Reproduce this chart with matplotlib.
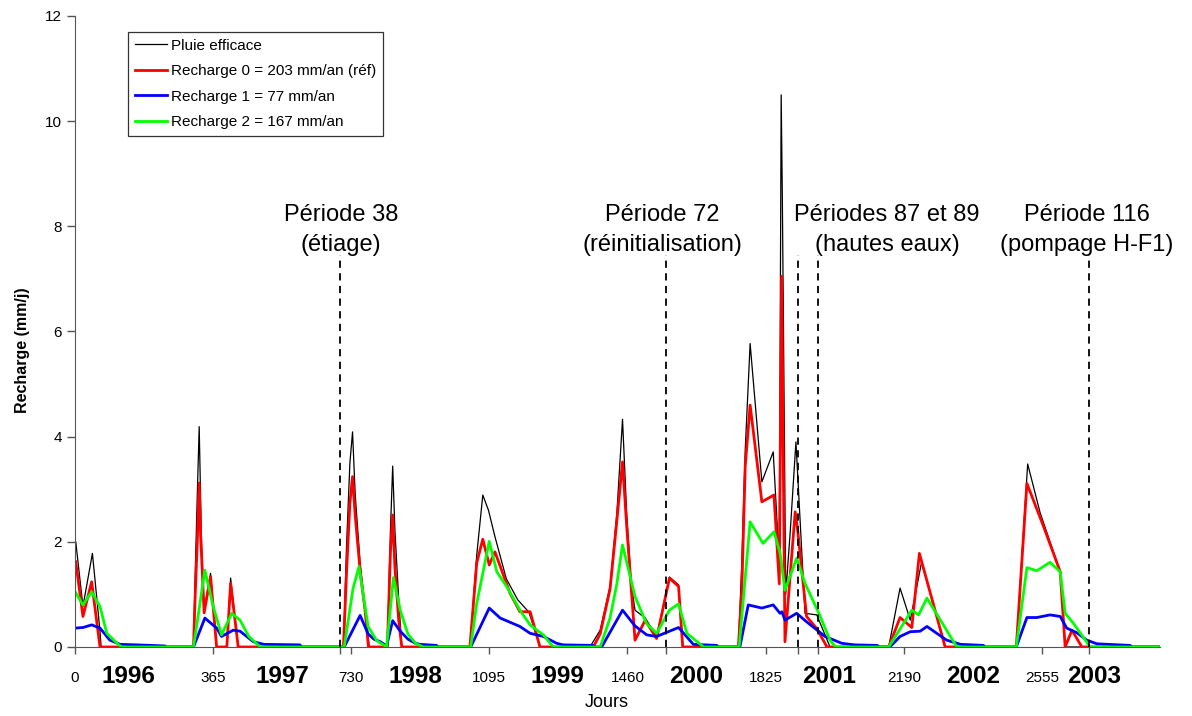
import numpy as np
import matplotlib
matplotlib.use('Agg')
import matplotlib.pyplot as plt
import matplotlib.transforms as mtrans

plt.rcParams['font.family'] = ['Liberation Sans', 'DejaVu Sans']

# Pluie efficace (black)
pluie_j = [3, 22, 47, 67, 70, 314, 318, 324, 329, 335, 342, 359, 375, 402, 412, 432,
           710, 718, 727, 734, 741, 754, 767, 778, 826, 834, 840, 846, 856, 864,
           1044, 1062, 1078, 1093, 1110, 1140, 1170, 1200, 1229,
           1361, 1388, 1414, 1432, 1447, 1458, 1470, 1480, 1507, 1537, 1571, 1595, 1606,
           1753, 1762, 1771, 1784, 1815, 1845, 1861, 1866, 1869, 1873, 1878, 1890, 1905,
           1929, 1960, 1995,
           2150, 2180, 2207, 2237, 2299, 2487, 2517, 2550, 2603, 2616, 2866]
pluie = [2.0, 0.77, 1.78, 0.3, 0, 0, 1.27, 2.9, 4.19, 2.0, 0.7, 1.4, 0, 0, 1.31, 0,
         0, 1.9, 3.5, 4.09, 2.9, 1.6, 0.75, 0, 0, 2.2, 3.44, 2.2, 0.9, 0,
         0, 1.75, 2.89, 2.6, 2.1, 1.3, 0.9, 0.66, 0,
         0, 0.32, 1.15, 2.54, 4.33, 2.54, 1.2, 0.7, 0.55, 0.2, 1.33, 1.18, 0,
         0, 1.6, 3.74, 5.77, 3.14, 3.71, 1.6, 10.5, 8.6, 5.3, 1.0, 2.2, 3.9,
         0.64, 0.61, 0,
         0, 1.12, 0.51, 1.62, 0, 0, 3.48, 2.55, 1.43, 0, 0]

# Recharge 0 (red)
r0_j = [3, 22, 45, 67, 314, 318, 324, 329, 333, 338, 342, 359, 375, 402, 412, 432,
        710, 718, 727, 734, 741, 754, 767, 776, 826, 834, 840, 846, 856, 864,
        1044, 1062, 1078, 1095, 1110, 1150, 1176, 1203, 1229,
        1370, 1388, 1414, 1432, 1447, 1458, 1480, 1507, 1537, 1571, 1595, 1606,
        1753, 1762, 1771, 1784, 1815, 1847, 1861, 1867, 1876, 1903, 1910, 1933, 1960, 1987,
        2150, 2180, 2211, 2231, 2299, 2487, 2515, 2559, 2603, 2616, 2634, 2660, 2866]
r0 = [1.62, 0.58, 1.24, 0, 0, 0.9, 2.0, 3.12, 2.1, 1.3, 0.65, 1.34, 0, 0, 1.21, 0,
      0, 1.4, 2.74, 3.24, 2.5, 1.45, 0.7, 0, 0, 1.8, 2.51, 1.5, 0.5, 0,
      0, 1.6, 2.05, 1.56, 1.81, 1.02, 0.67, 0.67, 0,
      0, 0.25, 1.1, 2.4, 3.52, 2.3, 0.13, 0.51, 0.16, 1.31, 1.15, 0,
      0, 1.08, 3.43, 4.6, 2.76, 2.89, 1.2, 7.05, 0.1, 2.57, 2.2, 0.58, 0.35, 0,
      0, 0.56, 0.37, 1.78, 0, 0, 3.11, 2.29, 1.43, 0, 0.32, 0, 0]

# Recharge 1 (blue)
r1_j = [3, 22, 45, 67, 93, 120, 164, 239, 242, 314, 344, 375, 388, 419, 437, 472, 500, 595, 600,
        712, 754, 775, 790, 807, 824, 840, 860, 880, 900, 912, 956, 960,
        1046, 1095, 1124, 1176, 1203, 1238, 1273, 1290, 1370, 1375,
        1392, 1447, 1480, 1511, 1537, 1595, 1634, 1696, 1700,
        1757, 1779, 1815, 1845, 1863, 1868, 1876, 1907, 1933, 1982, 2026, 2060, 2120, 2125,
        2153, 2180, 2207, 2233, 2251, 2303, 2340, 2400, 2405,
        2487, 2515, 2541, 2576, 2603, 2620, 2647, 2673, 2700, 2788, 2792, 2866]
r1 = [0.36, 0.37, 0.42, 0.36, 0.13, 0.05, 0.04, 0.02, 0, 0, 0.55, 0.36, 0.2, 0.32, 0.3, 0.1, 0.05, 0.04, 0,
      0, 0.6, 0.25, 0.15, 0.1, 0.02, 0.5, 0.3, 0.15, 0.07, 0.05, 0.03, 0,
      0, 0.74, 0.55, 0.39, 0.26, 0.2, 0.07, 0.04, 0.03, 0,
      0, 0.70, 0.4, 0.23, 0.2, 0.37, 0.05, 0.03, 0,
      0, 0.8, 0.74, 0.8, 0.64, 0.67, 0.51, 0.64, 0.48, 0.2, 0.07, 0.04, 0.03, 0,
      0, 0.2, 0.29, 0.3, 0.39, 0.13, 0.05, 0.03, 0,
      0, 0.56, 0.56, 0.61, 0.58, 0.36, 0.27, 0.13, 0.06, 0.03, 0, 0]

# Recharge 2 (green)
r2_j = [3, 22, 45, 67, 85, 115, 125, 314, 344, 366, 388, 415, 437, 460, 490,
        712, 735, 751, 775, 798, 824, 842, 860, 880, 900, 921,
        1046, 1062, 1095, 1115, 1141, 1176, 1203, 1238, 1264,
        1388, 1414, 1432, 1447, 1480, 1510, 1537, 1571, 1595, 1617, 1661,
        1755, 1784, 1818, 1847, 1863, 1876, 1907, 1929, 1965, 1995, 2010,
        2150, 2211, 2229, 2251, 2273, 2330,
        2487, 2515, 2541, 2576, 2603, 2616, 2638, 2682, 2866]
r2 = [1.03, 0.80, 1.05, 0.77, 0.26, 0.05, 0, 0, 1.46, 0.77, 0.23, 0.64, 0.51, 0.2, 0,
      0, 1.1, 1.53, 0.39, 0.12, 0, 1.32, 0.7, 0.25, 0.07, 0,
      0, 0.83, 2.01, 1.43, 1.15, 0.7, 0.42, 0.23, 0,
      0, 0.55, 1.2, 1.94, 0.96, 0.45, 0.26, 0.7, 0.82, 0.26, 0,
      0, 2.38, 1.97, 2.19, 1.79, 1.08, 1.69, 1.21, 0.65, 0.13, 0,
      0, 0.7, 0.61, 0.93, 0.67, 0,
      0, 1.51, 1.45, 1.61, 1.43, 0.64, 0.45, 0, 0]

labels = ['Pluie efficace', 'Recharge 0 = 203 mm/an (réf)',
          'Recharge 1 = 77 mm/an', 'Recharge 2 = 167 mm/an']

day_ticks = [0, 365, 730, 1095, 1460, 1825, 2190, 2555]
years = ['1996', '1997', '1998', '1999', '2000', '2001', '2002', '2003']
year_pos = [141, 548, 900, 1276, 1641, 1992, 2373, 2693]

periodes = [701, 1562, 1911, 1964, 2679]
annot = [('Période 38', '(étiage)', 704),
         ('Période 72', '(réinitialisation)', 1552),
         ('Périodes 87 et 89', '(hautes eaux)', 2146),
         ('Période 116', '(pompage H-F1)', 2674)]

fig = plt.figure(figsize=(11.92, 7.16), dpi=100)
ax = fig.add_axes([0.0626, 0.0964, 0.9104, 0.8813])

ax.plot(pluie_j, pluie, color='black', lw=0.9, label=labels[0])
ax.plot(r0_j, r0, color='#ff0000', lw=2.0, label=labels[1])
ax.plot(r1_j, r1, color='#0000ff', lw=2.0, label=labels[2])
ax.plot(r2_j, r2, color='#00ff00', lw=2.0, label=labels[3])

ax.vlines(periodes, 0, 7.45, colors='black', linestyles=(0, (4, 3)), lw=1.3)

for t1, t2, x in annot:
    ax.text(x, 8.21, t1, ha='center', va='center', fontsize=17)
    ax.text(x, 7.64, t2, ha='center', va='center', fontsize=17)

ax.set_xlim(0, 2866)
ax.set_ylim(0, 12)
ax.set_yticks(np.arange(0, 13, 2))
ax.set_xticks(day_ticks)
ax.set_xticks(periodes, minor=True)
ax.tick_params(axis='y', length=6, width=1, color='#555555', labelsize=11, pad=3)
ax.tick_params(axis='x', which='major', length=5, width=1, color='#555555', labelsize=11, pad=12)
ax.tick_params(axis='x', which='minor', length=5, width=1, color='#555555')

trans = mtrans.blended_transform_factory(ax.transData, ax.transAxes)
for y, x in zip(years, year_pos):
    ax.text(x, -0.046, y, transform=trans, ha='center', va='center',
            fontsize=17.5, fontweight='bold')

ax.spines['top'].set_visible(False)
ax.spines['right'].set_visible(False)
ax.spines['left'].set_color('#555555')
ax.spines['bottom'].set_color('#555555')

ax.set_ylabel('Recharge (mm/j)', fontsize=11.5, fontweight='bold')
ax.yaxis.set_label_coords(-0.041, 0.47)
ax.set_xlabel('Jours', fontsize=13)
ax.xaxis.set_label_coords(0.49, -0.075)

leg = ax.legend(loc='upper left', bbox_to_anchor=(0.049, 0.975), fontsize=11,
                frameon=True, fancybox=False, edgecolor='black', handlelength=2.1,
                handletextpad=0.3, labelspacing=0.75, borderpad=0.45, borderaxespad=0)
leg.get_frame().set_linewidth(0.9)

fig.savefig('out.png', dpi=100)
